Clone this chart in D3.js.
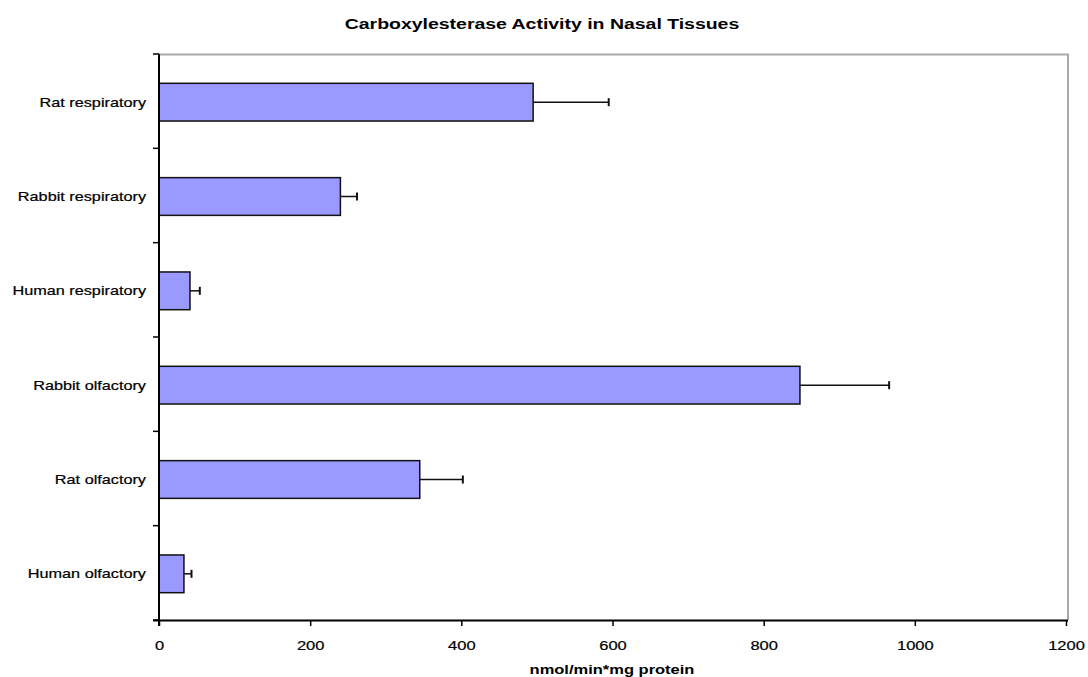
<!DOCTYPE html>
<html>
<head>
<meta charset="utf-8">
<script src="https://cdn.jsdelivr.net/npm/d3@7"></script>
<style>
  body { margin: 0; background: #fff; }
  svg text { font-family: "Liberation Sans", Arial, sans-serif; fill: #000; }
</style>
</head>
<body>
<div id="chart"></div>
<script>
// tissues, top to bottom
const categories = ["Rat respiratory", "Rabbit respiratory", "Human respiratory",
                    "Rabbit olfactory", "Rat olfactory", "Human olfactory"];
const activity = [495, 240, 41, 848, 345, 33];
const errors = [100, 22, 13, 118, 57, 10];
const xTicks = [0, 200, 400, 600, 800, 1000, 1200];

const W = 1088, H = 677;
const margin = { top: 54, right: 20, bottom: 57, left: 159 };
const width = 1068 - margin.left;
const height = H - margin.top - margin.bottom;
const stretch = 1.32; // reference text is drawn wide

const svg = d3.select("#chart").append("svg")
  .attr("width", W).attr("height", H);

svg.append("text")
  .attr("transform", `translate(542,29) scale(1.39,1)`)
  .attr("text-anchor", "middle")
  .attr("font-size", "14px").attr("font-weight", "bold")
  .text("Carboxylesterase Activity in Nasal Tissues");

const g = svg.append("g").attr("transform", `translate(${margin.left},${margin.top})`);

const x = d3.scaleLinear().domain([0, 1200]).range([0, width - 2]);
const y = d3.scaleBand().domain(categories).range([0, height]).paddingInner(0.6).paddingOuter(0.3);

// plot frame (top/right grey)
g.append("path")
  .attr("d", `M0,0.5H${width}V${height}`)
  .attr("fill", "none").attr("stroke", "#a8a8a8").attr("stroke-width", 2);

const data = categories.map((c, i) => ({ name: c, v: activity[i], e: errors[i] }));

g.selectAll(".bar").data(data).enter().append("rect")
  .attr("class", "bar")
  .attr("x", 0)
  .attr("y", d => y(d.name) + 1)
  .attr("width", d => x(d.v))
  .attr("height", y.bandwidth())
  .attr("fill", "#9999ff")
  .attr("stroke", "#111").attr("stroke-width", 1.5);

g.selectAll(".err").data(data).enter().append("line")
  .attr("x1", d => x(d.v)).attr("x2", d => x(d.v + d.e))
  .attr("y1", d => y(d.name) + 1 + y.bandwidth() / 2)
  .attr("y2", d => y(d.name) + 1 + y.bandwidth() / 2)
  .attr("stroke", "#111").attr("stroke-width", 1.5);

g.selectAll(".cap").data(data).enter().append("line")
  .attr("x1", d => x(d.v + d.e)).attr("x2", d => x(d.v + d.e))
  .attr("y1", d => y(d.name) + 1 + y.bandwidth() / 2 - 4)
  .attr("y2", d => y(d.name) + 1 + y.bandwidth() / 2 + 4)
  .attr("stroke", "#111").attr("stroke-width", 2);

// x axis
const xAxis = g.append("g").attr("transform", `translate(0,${height})`)
  .call(d3.axisBottom(x).tickValues(xTicks).tickFormat(d3.format("d")).tickSize(6).tickPadding(15));
xAxis.selectAll("text").attr("font-size", "12.5px").attr("fill", "#000")
  .attr("stroke", "#000").attr("stroke-width", 0.2)
  .attr("transform", `scale(${stretch},1)`)
  .style("font-family", "Liberation Sans, Arial, sans-serif");
xAxis.select(".domain").attr("d", `M-6,0.5H${width}`).attr("stroke", "#000").attr("stroke-width", 2);
xAxis.selectAll(".tick line").attr("stroke", "#000").attr("stroke-width", 1.5);

// y axis: category ticks sit on band boundaries
const bandStep = height / categories.length;
g.append("line").attr("x1", 0).attr("x2", 0).attr("y1", 0).attr("y2", height + 6)
  .attr("stroke", "#000").attr("stroke-width", 2);
g.selectAll(".ytick").data(d3.range(categories.length + 1)).enter().append("line")
  .attr("x1", -6).attr("x2", 0)
  .attr("y1", i => i * bandStep).attr("y2", i => i * bandStep)
  .attr("stroke", "#000").attr("stroke-width", 1.5);
g.selectAll(".ylab").data(categories).enter().append("text")
  .attr("transform", d => `translate(-13,${y(d) + 1 + y.bandwidth() / 2}) scale(1.3,1)`)
  .attr("dy", "0.35em")
  .attr("text-anchor", "end")
  .attr("font-size", "12.5px")
  .attr("stroke", "#000").attr("stroke-width", 0.2)
  .text(d => d);

svg.append("text")
  .attr("transform", `translate(612,674) scale(${stretch},1)`)
  .attr("text-anchor", "middle")
  .attr("font-size", "12.5px").attr("font-weight", "bold")
  .text("nmol/min*mg protein");
</script>
</body>
</html>
